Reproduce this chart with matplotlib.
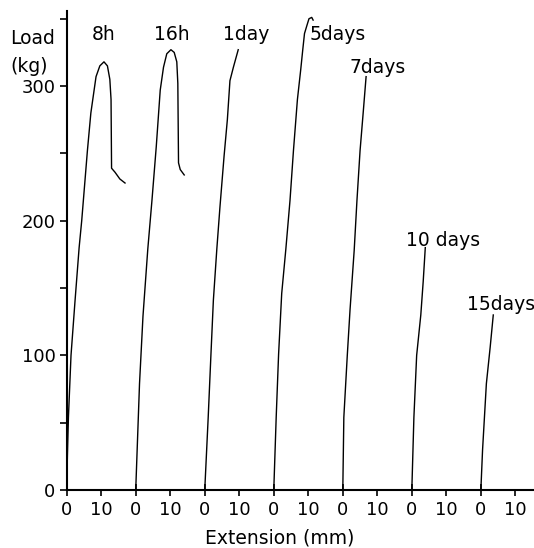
import matplotlib
matplotlib.use("Agg")
import matplotlib.pyplot as plt
from matplotlib.ticker import FixedLocator, FixedFormatter

# Load-extension curves for each curing time (extension in mm, load in kg)
curve_names = ["8h", "16h", "1day", "5days", "7days", "10 days", "15days"]

ext_8h = [0, 0.2, 0.5, 1.25, 2.4, 3.6, 4.35, 6.0, 7.0, 8.5, 9.6, 10.8, 11.8, 12.5, 12.85, 13.0, 14.0, 15.4, 16.9]
load_8h = [0, 25, 54, 100, 140, 180, 200, 252, 280, 307, 315, 318, 315, 305, 290, 239, 236, 231, 228]

ext_16h = [0, 1.1, 2.1, 3.5, 4.7, 5.95, 7.1, 8.05, 9.0, 10.2, 11.15, 11.9, 12.2, 12.4, 12.9, 14.05]
load_16h = [0, 79, 129, 179, 215, 255, 297, 314, 324, 327, 325, 318, 302, 243, 238, 234]

ext_1d = [0, 1.0, 1.8, 2.5, 3.5, 4.4, 5.6, 6.55, 7.3, 8.3, 9.7]
load_1d = [0, 54, 101, 141, 179, 210, 248, 275, 304, 314, 327]

ext_5d = [0, 0.7, 1.4, 2.3, 3.5, 4.7, 5.7, 6.85, 7.8, 8.4, 8.9, 9.6, 10.2, 11.0, 11.4]
load_5d = [0, 54, 101, 146, 179, 215, 252, 290, 312, 327, 339, 345, 350, 351, 349]

ext_7d = [0, 0.3, 1.3, 2.1, 3.3, 4.1, 5.0, 5.9, 6.75]
load_7d = [0, 54, 100, 134, 178, 215, 252, 280, 307]

ext_10d = [0, 0.6, 1.4, 2.6, 3.3, 3.9]
load_10d = [0, 54, 100, 130, 155, 180]

ext_15d = [0, 0.5, 1.6, 2.7, 3.6]
load_15d = [0, 30, 79, 106, 130]

extensions = [ext_8h, ext_16h, ext_1d, ext_5d, ext_7d, ext_10d, ext_15d]
loads = [load_8h, load_16h, load_1d, load_5d, load_7d, load_10d, load_15d]

# each curve starts at its own zero on the shared extension axis
group_offset = 20
zero_ticks = ["0"] * 7
ten_ticks = ["10"] * 7
y_ticks = [0, 100, 200, 300]
y_minor = [50, 150, 250, 350]

# label anchor points (data coords) for each curve
label_pos = [(10.8, 338), (30.6, 338), (52.0, 338), (70.5, 338),
             (90.2, 314), (109.1, 185), (125.9, 138)]
label_ha = ["center", "center", "center", "left", "center", "center", "center"]

plt.rcParams["font.family"] = ["DejaVu Sans"]
fig = plt.figure(figsize=(5.34, 5.48), dpi=100)
ax = fig.add_axes([0.1249, 0.1058, 0.8751, 0.874])

for i, (xs, ys) in enumerate(zip(extensions, loads)):
    ax.plot([x + i * group_offset for x in xs], ys, color="black", lw=1.0,
            solid_joinstyle="round")

for name, (lx, ly), ha in zip(curve_names, label_pos, label_ha):
    ax.text(lx, ly, name, ha=ha, va="center", fontsize=13.5)

ax.set_xlim(0, 135.4)
ax.set_ylim(0, 355.7)

for s in ["top", "right"]:
    ax.spines[s].set_visible(False)
for s in ["left", "bottom"]:
    ax.spines[s].set_linewidth(1.5)

zeros = [i * group_offset for i in range(7)]
tens = [i * group_offset + 10 for i in range(7)]
ax.xaxis.set_major_locator(FixedLocator(zeros))
ax.xaxis.set_major_formatter(FixedFormatter(zero_ticks))
ax.xaxis.set_minor_locator(FixedLocator(tens))
ax.xaxis.set_minor_formatter(FixedFormatter(ten_ticks))
ax.tick_params(axis="x", which="major", direction="inout", length=8, width=1.2,
               labelsize=13, pad=4)
ax.tick_params(axis="x", which="minor", direction="out", length=4, width=1.2,
               labelsize=13, pad=4)

ax.yaxis.set_major_locator(FixedLocator(y_ticks))
ax.yaxis.set_minor_locator(FixedLocator(y_minor))
ax.tick_params(axis="y", which="both", direction="out", length=5, width=1.2,
               labelsize=13, pad=3)

fig.text(33 / 534, 1 - 39 / 548, "Load", ha="center", va="center", fontsize=13.5)
fig.text(29 / 534, 1 - 67 / 548, "(kg)", ha="center", va="center", fontsize=13.5)
fig.text(280 / 534, 1 - 538 / 548, "Extension (mm)", ha="center", va="center",
         fontsize=13.5)

fig.savefig("out.png", dpi=100)
